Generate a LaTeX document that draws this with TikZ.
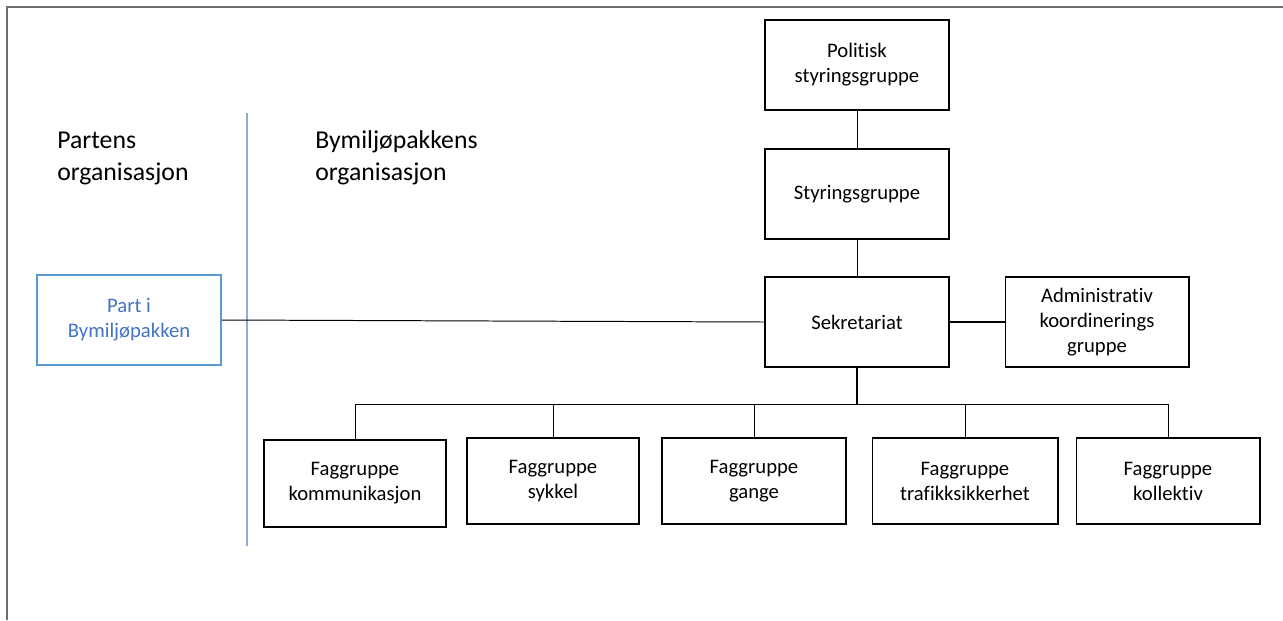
\documentclass[tikz,border=0pt]{standalone}
\usepackage{fontspec}
\setmainfont{Carlito}[Ligatures=NoCommon]
\usetikzlibrary{positioning}
\definecolor{partblue}{RGB}{91,155,213}
\definecolor{parttext}{RGB}{68,114,196}
\definecolor{dividerblue}{RGB}{143,170,220}
\definecolor{framegray}{RGB}{110,110,110}

\begin{document}
\begin{tikzpicture}[x=0.025cm, y=-0.025cm,
    orgbox/.style={draw, line width=1.4pt, align=center, inner sep=2pt,
        font=\fontsize{14.7}{17.8}\selectfont,
        minimum width=4.6cm, minimum height=2.25cm},
    faggroup/.style={orgbox, minimum height=2.15cm},
    link/.style={line width=0.7pt},
    heading/.style={anchor=base west, align=left, inner sep=0pt,
        font=\fontsize{18.3}{22.7}\selectfont}]
    \useasboundingbox (0,0) rectangle (1283,620);

    % Frame
    \draw[framegray, line width=1.3pt] (7,620) -- (7,7) -- (1283,7);

    % Headings and divider
    \node[heading] (partens) at (57,180) {Partens\\organisasjon};
    \node[heading] (bymiljo) at (315,180) {Bymiljøpakkens\\organisasjon};
    \draw[dividerblue, line width=1.1pt] (247,113) -- (247,546);

    % Main chain
    \node[orgbox] (politisk) at (857,65) {Politisk\\styringsgruppe};
    \node[orgbox] (styring) at (857,194) {Styringsgruppe};
    \node[orgbox] (sekretariat) at (857,322) {Sekretariat};
    \node[orgbox, minimum width=4.575cm] (admin) at (1097,322) {Administrativ\\koordinerings\\gruppe};

    % Part
    \node[orgbox, draw=partblue, text=parttext, line width=1.1pt] (part) at (129,320) {Part i\\Bymiljøpakken};

    % Faggrupper
    \node[faggroup, minimum width=4.525cm, minimum height=2.175cm] (kommunikasjon) at (355,483.5) {Faggruppe\\kommunikasjon};
    \node[faggroup, minimum width=4.3cm] (sykkel) at (553,481) {Faggruppe\\sykkel};
    \node[faggroup, minimum width=4.575cm] (gange) at (754,481) {Faggruppe\\gange};
    \node[faggroup, minimum width=4.625cm] (trafikk) at (965,481) {Faggruppe\\trafikksikkerhet};
    \node[faggroup, minimum width=4.575cm] (kollektiv) at (1168,481) {Faggruppe\\kollektiv};

    % Lines
    \draw[link] (politisk) -- (styring);
    \draw[link] (styring) -- (sekretariat);
    \draw[line width=1.4pt] (sekretariat) -- (admin);
    \draw[link] (part.east) -- (sekretariat.west);
    \draw[line width=1.3pt] (sekretariat.south) -- ++(0,36) coordinate (bus);
    \foreach \fag in {kommunikasjon, sykkel, gange, trafikk, kollektiv}
        \draw[link] (bus) -| (\fag.north);
\end{tikzpicture}
\end{document}
